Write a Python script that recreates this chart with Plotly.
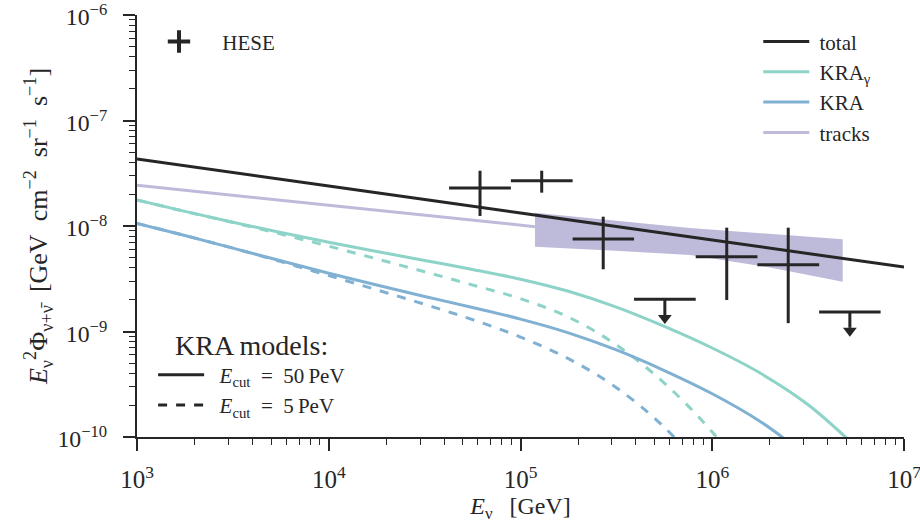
import plotly.graph_objects as go

# ---------------- data ----------------
total_e = [1e3, 1e4, 1e5, 1e6, 1e7]
total_f = [4.31e-8, 2.39e-8, 1.33e-8, 7.36e-9, 4.08e-9]

tracks_e = [1e3, 1e4, 1.19e5]
tracks_f = [2.43e-8, 1.57e-8, 9.86e-9]

band_top_e = [1.19e5, 7.66e5, 4.79e6]
band_top_f = [1.336e-8, 9.57e-9, 7.48e-9]
band_bot_e = [1.19e5, 3.30e5, 7.66e5, 2.0e6, 4.79e6]
band_bot_f = [6.37e-9, 5.79e-9, 5.31e-9, 4.05e-9, 2.96e-9]

# common energy grid for the model curves (quarter decades)
model_e = [1e3, 1778, 3162, 5623, 1e4, 17783, 31623, 56234, 1e5, 177828, 316228, 562341,
           1e6, 1778279, 3162278, 5623413]

# KRA-gamma, E_cut = 50 PeV
kra_g50_f = [1.762e-8, 1.375e-8, 1.086e-8, 8.679e-9, 7.015e-9, 5.734e-9, 4.716e-9, 3.877e-9,
             3.133e-9, 2.404e-9, 1.702e-9, 1.118e-9, 6.975e-10, 4.036e-10, 2.023e-10, 8.054e-11]
# KRA-gamma, E_cut = 5 PeV
kra_g5_f = [1.762e-8, 1.375e-8, 1.080e-8, 8.386e-9, 6.433e-9, 4.882e-9, 3.681e-9, 2.761e-9,
            2.046e-9, 1.368e-9, 7.472e-10, 3.243e-10, 1.118e-10, 2.975e-11]
# KRA, E_cut = 50 PeV
kra50_f = [1.059e-8, 8.128e-9, 6.166e-9, 4.677e-9, 3.568e-9, 2.754e-9, 2.150e-9, 1.689e-9,
           1.311e-9, 9.716e-10, 6.683e-10, 4.266e-10, 2.570e-10, 1.404e-10, 6.457e-11]
# KRA, E_cut = 5 PeV
kra5_f = [1.059e-8, 8.128e-9, 6.166e-9, 4.598e-9, 3.388e-9, 2.483e-9, 1.809e-9, 1.296e-9,
          8.861e-10, 5.527e-10, 2.934e-10, 1.237e-10, 3.912e-11]

# HESE points
hese_e = [6.15e4, 1.29e5, 2.70e5, 1.19e6, 2.49e6]
hese_e_lo = [4.24e4, 8.91e4, 1.87e5, 8.20e5, 1.72e6]
hese_e_hi = [8.91e4, 1.87e5, 3.91e5, 1.72e6, 3.61e6]
hese_f = [2.29e-8, 2.69e-8, 7.53e-9, 5.12e-9, 4.30e-9]
hese_f_lo = [1.245e-8, 2.07e-8, 3.89e-9, 1.99e-9, 1.20e-9]
hese_f_hi = [3.34e-8, 3.34e-8, 1.225e-8, 9.64e-9, 9.64e-9]

# HESE upper limits
ul_e = [5.66e5, 5.22e6]
ul_e_lo = [3.91e5, 3.61e6]
ul_e_hi = [8.20e5, 7.55e6]
ul_f = [2.02e-9, 1.53e-9]

# ---------------- style ----------------
DARK = "#262626"
TEAL = "#8dd3c7"
BLUE = "#80b1d3"
LAV = "#bebada"
FONT = "Liberation Serif"
LW = 3

fig = go.Figure()

bx = band_top_e + band_bot_e[::-1]
by = band_top_f + band_bot_f[::-1]
fig.add_trace(go.Scatter(x=bx, y=by, fill="toself", fillcolor=LAV, mode="none",
                         hoverinfo="skip", showlegend=False))


def curve(x, y, color, dash="solid"):
    return go.Scatter(x=x[:len(y)], y=y, mode="lines",
                      line=dict(color=color, width=LW, dash=dash, shape="spline", smoothing=1.0),
                      showlegend=False, hoverinfo="skip")


fig.add_trace(curve(model_e, kra_g5_f, TEAL, dash="dash"))
fig.add_trace(curve(model_e, kra5_f, BLUE, dash="dash"))
fig.add_trace(curve(model_e, kra_g50_f, TEAL))
fig.add_trace(curve(model_e, kra50_f, BLUE))
fig.add_trace(curve(tracks_e, tracks_f, LAV))
fig.add_trace(curve(total_e, total_f, DARK))

# HESE crosses
fig.add_trace(go.Scatter(
    x=hese_e, y=hese_f, mode="markers",
    marker=dict(size=1, color="rgba(0,0,0,0)"),
    error_x=dict(type="data", symmetric=False,
                 array=[h - c for h, c in zip(hese_e_hi, hese_e)],
                 arrayminus=[c - l for c, l in zip(hese_e, hese_e_lo)],
                 color=DARK, thickness=3, width=0),
    error_y=dict(type="data", symmetric=False,
                 array=[h - c for h, c in zip(hese_f_hi, hese_f)],
                 arrayminus=[c - l for c, l in zip(hese_f, hese_f_lo)],
                 color=DARK, thickness=3, width=0),
    showlegend=False, hoverinfo="skip"))

# upper limits
fig.add_trace(go.Scatter(
    x=ul_e, y=ul_f, mode="markers", marker=dict(size=1, color="rgba(0,0,0,0)"),
    error_x=dict(type="data", symmetric=False,
                 array=[h - c for h, c in zip(ul_e_hi, ul_e)],
                 arrayminus=[c - l for c, l in zip(ul_e, ul_e_lo)],
                 color=DARK, thickness=3, width=0),
    showlegend=False, hoverinfo="skip"))
sx, sy = [], []
for e, f in zip(ul_e, ul_f):
    sx += [e, e, None]
    sy += [f, f * 10 ** -0.15, None]
fig.add_trace(go.Scatter(x=sx, y=sy, mode="lines", line=dict(color=DARK, width=3),
                         showlegend=False, hoverinfo="skip"))
fig.add_trace(go.Scatter(x=ul_e, y=[f * 10 ** -0.177 for f in ul_f], mode="markers",
                         marker=dict(symbol="triangle-down", size=12, color=DARK, line=dict(width=0)),
                         showlegend=False, hoverinfo="skip"))

# ---- legend entries ----
for nm, col in [(" total", DARK), (" KRA<sub>γ</sub>", TEAL), (" KRA", BLUE), (" tracks", LAV)]:
    fig.add_trace(go.Scatter(x=[None], y=[None], mode="lines", line=dict(color=col, width=LW),
                             name=nm, legend="legend", legendgroup=nm, showlegend=True))
fig.add_trace(go.Scatter(x=[None], y=[None], mode="markers", name=" HESE",
                         marker=dict(symbol="cross-thin", size=16, line=dict(width=4, color=DARK)),
                         legend="legend2", showlegend=True))
for nm, dsh in [("\u2002<i>E</i><sub>cut</sub>\u2002=\u200250\u2009PeV", "solid"),
                ("\u2002<i>E</i><sub>cut</sub>\u2002=\u20025\u2009PeV", "dash")]:
    fig.add_trace(go.Scatter(x=[None], y=[None], mode="lines", line=dict(color=DARK, width=LW, dash=dsh),
                             name=nm, legend="legend3", legendgroup=nm, showlegend=True))

axis_common = dict(
    type="log", showline=True, linecolor=DARK, linewidth=2, mirror=False,
    ticks="outside", ticklen=12, tickwidth=2, tickcolor=DARK,
    showgrid=False, zeroline=False, dtick=1, exponentformat="power",
    ticklabeloverflow="allow", automargin=False,
    tickfont=dict(family=FONT, size=20, color=DARK),
    minor=dict(ticks="outside", ticklen=6, tickwidth=1.3, tickcolor=DARK, showgrid=False),
)

fig.update_layout(
    width=920, height=523,
    margin=dict(l=137, r=16, t=15, b=86),
    paper_bgcolor="white", plot_bgcolor="white",
    font=dict(family=FONT, color=DARK),
    xaxis=dict(axis_common, range=[3, 7], ticklabelstandoff=8,
               title=dict(text="<i>E</i><sub>ν</sub>\u2002\u2009[GeV]", font=dict(family=FONT, size=24, color=DARK), standoff=6)),
    yaxis=dict(axis_common, range=[-10, -6], ticklabelstandoff=12, ticklabelshift=2,
               tickfont=dict(family=FONT, size=19, color=DARK),
               title=dict(text="<i>E</i><sub>ν</sub><sup>2</sup>Φ<sub>ν+ν̄</sub>\u2002[GeV\u2002cm<sup>−2</sup>\u2002sr<sup>−1</sup>\u2002s<sup>−1</sup>]",
                          font=dict(family=FONT, size=26, color=DARK), standoff=2)),
    legend=dict(x=0.81, y=0.985, xanchor="left", yanchor="top", bgcolor="rgba(0,0,0,0)",
                font=dict(family=FONT, size=21, color=DARK), traceorder="grouped", tracegroupgap=0,
                itemwidth=46),
    legend2=dict(x=0.0052, y=0.985, xanchor="left", yanchor="top", bgcolor="rgba(0,0,0,0)",
                 font=dict(family=FONT, size=21, color=DARK), itemwidth=66),
    legend3=dict(x=0.021, y=0.028, xanchor="left", yanchor="bottom", bgcolor="rgba(0,0,0,0)",
                 font=dict(family=FONT, size=21, color=DARK), traceorder="grouped", tracegroupgap=0,
                 itemwidth=46,
                 title=dict(text="KRA models:", side="top center", font=dict(family=FONT, size=28, color=DARK))),
)

fig.write_html("out.html")
